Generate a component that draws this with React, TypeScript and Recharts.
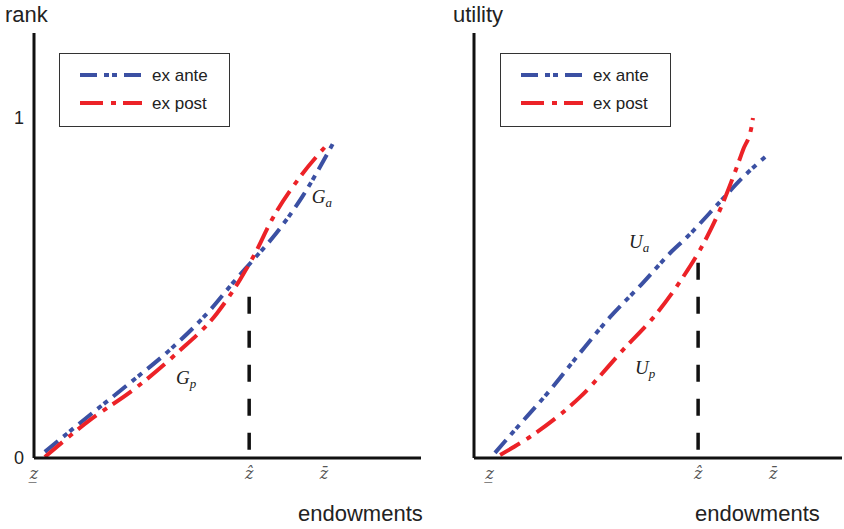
import { Legend, Line, LineChart, ReferenceDot, ReferenceLine, XAxis, YAxis } from 'recharts';

// left panel: rank curves
const rankAnteX = [0.28, 1.19, 2.48, 3.51, 4.55, 5.14, 5.66, 6.18, 6.93, 7.73];
const rankAnteY = [0.018, 0.103, 0.221, 0.318, 0.435, 0.515, 0.582, 0.65, 0.768, 0.926];
const rankPostX = [0.28, 1.45, 2.56, 3.7, 4.73, 5.32, 5.76, 6.1, 6.87, 7.57];
const rankPostY = [0.003, 0.112, 0.2, 0.309, 0.426, 0.524, 0.612, 0.691, 0.826, 0.921];

// right panel: utility curves
const utilAnteX = [0.57, 1.06, 2.07, 2.88, 3.7, 4.59, 5.33, 5.79, 6.68, 7.31, 7.91];
const utilAnteY = [0.015, 0.076, 0.2, 0.309, 0.415, 0.515, 0.603, 0.65, 0.753, 0.826, 0.885];
const utilPostX = [0.71, 1.71, 2.88, 4.05, 4.97, 5.68, 6.14, 6.33, 6.68, 7.04, 7.31, 7.55, 7.58];
const utilPostY = [0.009, 0.076, 0.179, 0.318, 0.426, 0.532, 0.612, 0.65, 0.729, 0.826, 0.906, 0.979, 1.0];

const rankTicks = [0, 5.56, 7.49];
const utilTicks = [0.43, 6.09, 8.13];
const tickLabels = ['z\u0332', '\u1E91', 'z\u0304'];
const rankYTicks = [0, 1];

const seriesNames = ['ex ante', 'ex post'];
const seriesColors = ['#3b50a3', '#ec2227'];
const seriesDashes = ['17 7 5 3 5 7', '23 8 5 7'];

const zip = (xs: number[], ys: number[]) => xs.map((x, i) => ({ x, y: ys[i] }));

function ZTick({ x, y, payload, ticks }: any) {
  const i = ticks.indexOf(payload.value);
  return (
    <text x={x} y={y} dy={19} textAnchor="middle" fill="#555" fontFamily="'DejaVu Serif', serif" fontStyle="italic" fontSize={16}>
      {tickLabels[i]}
    </text>
  );
}

function NumTick({ x, y, payload }: any) {
  return (
    <text x={x} y={y} dy={6} textAnchor="end" fill="#222" fontFamily="'Liberation Sans', Arial, sans-serif" fontSize={18}>
      {payload.value}
    </text>
  );
}

function LegendBox() {
  return (
    <div style={{ width: 171, height: 74, border: '1.5px solid #333', boxSizing: 'border-box', background: '#fff' }}>
      <svg width={168} height={71}>
        {seriesNames.map((name, i) => (
          <g key={name}>
            <line x1={20} x2={82} y1={21 + i * 28} y2={21 + i * 28} stroke={seriesColors[i]} strokeWidth={4} strokeDasharray={seriesDashes[i]} />
            <text x={92} y={21 + i * 28} dy={6} fontFamily="'Liberation Sans', Arial, sans-serif" fontSize={17} fill="#222">
              {name}
            </text>
          </g>
        ))}
      </svg>
    </div>
  );
}

function CurveName({ viewBox, main, sub }: any) {
  const x = viewBox?.x ?? 0;
  const y = viewBox?.y ?? 0;
  return (
    <text x={x} y={y} fontFamily="'Liberation Serif', serif" fontStyle="italic" fontSize={19} fill="#222">
      {main}
      <tspan fontSize={13} dy={4}>{sub}</tspan>
    </text>
  );
}

const axisStyle = { stroke: '#111', strokeWidth: 3 };
const textStyle: any = { position: 'absolute', fontFamily: "'Liberation Sans', Arial, sans-serif", fontSize: 22, lineHeight: '22px', color: '#222', whiteSpace: 'nowrap' };

function Panel({ ante, post, ticks, yTicks, yWidth, width, marginRight, legendLeft, zHat, zTop, names }: any) {
  return (
    <LineChart width={width} height={529} margin={{ top: 33, right: marginRight, bottom: 0, left: 0 }}>
      <XAxis
        type="number"
        dataKey="x"
        domain={[0, 10]}
        ticks={ticks}
        tick={<ZTick ticks={ticks} />}
        tickLine={false}
        tickSize={0}
        height={71}
        axisLine={axisStyle}
        allowDataOverflow
      />
      <YAxis
        type="number"
        dataKey="y"
        domain={[0, 1.25]}
        ticks={yTicks}
        tick={yTicks.length ? <NumTick /> : false}
        tickLine={false}
        tickSize={0}
        tickMargin={10}
        width={yWidth}
        axisLine={axisStyle}
        allowDataOverflow
      />
      <ReferenceLine
        segment={[{ x: zHat, y: zTop }, { x: zHat, y: 0.024 }]}
        stroke="#111"
        strokeWidth={3.5}
        strokeDasharray="17 17"
      />
      <Line data={ante} dataKey="y" name={seriesNames[0]} type="monotone" stroke={seriesColors[0]} strokeWidth={4} strokeDasharray={seriesDashes[0]} dot={false} isAnimationActive={false} />
      <Line data={post} dataKey="y" name={seriesNames[1]} type="monotone" stroke={seriesColors[1]} strokeWidth={4} strokeDasharray={seriesDashes[1]} dot={false} isAnimationActive={false} />
      {names.map((n: any) => (
        <ReferenceDot key={n.main + n.sub} x={n.x} y={n.y} r={0} fill="none" stroke="none" label={<CurveName main={n.main} sub={n.sub} />} />
      ))}
      <Legend
        layout="horizontal"
        verticalAlign="middle"
        align="center"
        content={<LegendBox />}
        wrapperStyle={{ left: legendLeft, top: 53, width: 171, height: 74 }}
      />
    </LineChart>
  );
}

export default function App() {
  return (
    <div style={{ position: 'absolute', left: 0, top: 0, width: 844, height: 529, background: '#fff' }}>
      <div style={{ position: 'absolute', left: 0, top: 0 }}>
        <Panel
          ante={zip(rankAnteX, rankAnteY)}
          post={zip(rankPostX, rankPostY)}
          ticks={rankTicks}
          yTicks={rankYTicks}
          yWidth={34}
          width={430}
          marginRight={9}
          legendLeft={59}
          zHat={5.56}
          zTop={0.474}
          names={[
            { main: 'G', sub: 'a', x: 7.18, y: 0.75 },
            { main: 'G', sub: 'p', x: 3.67, y: 0.218 },
          ]}
        />
      </div>
      <div style={{ position: 'absolute', left: 430, top: 0 }}>
        <Panel
          ante={zip(utilAnteX, utilAnteY)}
          post={zip(utilPostX, utilPostY)}
          ticks={utilTicks}
          yTicks={[]}
          yWidth={44}
          width={414}
          marginRight={2}
          legendLeft={70}
          zHat={6.09}
          zTop={0.574}
          names={[
            { main: 'U', sub: 'a', x: 4.21, y: 0.618 },
            { main: 'U', sub: 'p', x: 4.375, y: 0.247 },
          ]}
        />
      </div>
      <div style={{ ...textStyle, left: 5, top: 4 }}>rank</div>
      <div style={{ ...textStyle, left: 453, top: 4 }}>utility</div>
      <div style={{ ...textStyle, left: 298, top: 503 }}>endowments</div>
      <div style={{ ...textStyle, left: 695, top: 503 }}>endowments</div>
    </div>
  );
}
